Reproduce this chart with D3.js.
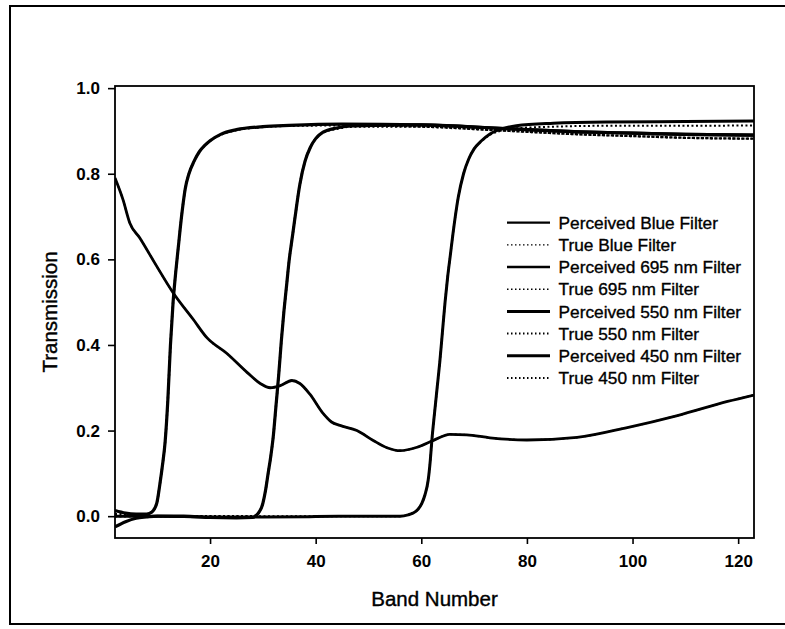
<!DOCTYPE html>
<html>
<head>
<meta charset="utf-8">
<script src="https://cdn.jsdelivr.net/npm/d3@7"></script>
<style>
  html, body { margin: 0; padding: 0; background: #fff; }
  svg { display: block; }
  text { font-family: "Liberation Sans", Arial, sans-serif; fill: #000; }
</style>
</head>
<body>
<svg id="chart" width="785" height="629"></svg>
<script>
// ---------- data ----------
const xTicks = [20, 40, 60, 80, 100, 120];
const yTicks = [0.0, 0.2, 0.4, 0.6, 0.8, 1.0];

const blueBands = [2,3.5,4.8,6.7,9.6,13,16.8,19.4,23.2,27,29.5,31.4,33.3,35.5,37,38.9,41.4,43,44.6,47.8,50.9,53.5,56,59.2,62.3,65.4,68.6,73,80,89.5,99,108.5,118,123];
const bluePerceived = [0.79,0.74,0.685,0.65,0.59,0.522,0.46,0.417,0.38,0.336,0.31,0.30,0.305,0.317,0.31,0.285,0.24,0.22,0.212,0.2,0.177,0.16,0.153,0.161,0.177,0.191,0.19,0.183,0.178,0.184,0.207,0.235,0.268,0.283];
const blueTrue = [0.79,0.74,0.685,0.65,0.59,0.522,0.46,0.417,0.38,0.336,0.31,0.30,0.305,0.317,0.31,0.285,0.24,0.22,0.212,0.2,0.177,0.16,0.153,0.161,0.177,0.191,0.19,0.183,0.178,0.184,0.207,0.235,0.268,0.283];

const f695Bands = [2,10,20,30,40,50,56,57.5,58.4,59.3,60.1,60.7,61.3,61.7,62,62.5,63,63.5,64,64.5,65,65.5,66,67,68,69,70,71.4,73,75,78,85,95,110,123];
const f695Perceived = [0,0,-0.002,-0.002,-0.001,0,0,0.003,0.007,0.015,0.03,0.05,0.084,0.13,0.177,0.24,0.3,0.36,0.43,0.5,0.56,0.61,0.66,0.745,0.8,0.835,0.858,0.877,0.893,0.904,0.912,0.918,0.921,0.922,0.923];
const f695True = [0,0,0,0,0,0,0,0.003,0.007,0.015,0.03,0.05,0.084,0.13,0.177,0.24,0.3,0.36,0.43,0.5,0.56,0.61,0.66,0.745,0.8,0.835,0.858,0.876,0.891,0.9,0.906,0.91,0.912,0.912,0.913];

const f550Bands = [2,4,6,8,10,15,20,25,28,29,30,30.5,31,31.5,32,32.5,33,33.5,34,34.5,35,35.5,36,37,38,39,40,41.4,44,47,60,72,80,90,100,110,123];
const f550Perceived = [-0.025,-0.013,-0.005,-0.002,0,0,-0.003,-0.004,-0.003,0.005,0.03,0.06,0.1,0.14,0.19,0.26,0.33,0.41,0.48,0.54,0.6,0.645,0.69,0.775,0.83,0.862,0.882,0.897,0.907,0.912,0.914,0.908,0.903,0.898,0.895,0.892,0.890];
const f550True = [0,0,0,0,0,0,0,0,0,0.005,0.03,0.06,0.1,0.14,0.19,0.26,0.33,0.41,0.48,0.54,0.6,0.645,0.69,0.775,0.83,0.862,0.882,0.896,0.905,0.91,0.91,0.903,0.898,0.892,0.888,0.884,0.882];

const f450Bands = [2,4,6,8,9,9.9,10.5,11,11.5,12,12.5,13,13.5,14,14.6,15.3,16,17,18,19,20,22,25,30,35,45,60,72,80,90,100,110,123];
const f450Perceived = [0.013,0.007,0.005,0.005,0.01,0.03,0.075,0.12,0.175,0.27,0.4,0.5,0.57,0.63,0.7,0.765,0.8,0.83,0.852,0.866,0.877,0.892,0.903,0.91,0.913,0.916,0.914,0.908,0.903,0.898,0.895,0.892,0.890];
const f450True = [0.005,0.005,0.005,0.005,0.01,0.03,0.075,0.12,0.175,0.27,0.4,0.5,0.57,0.63,0.7,0.765,0.8,0.83,0.852,0.866,0.877,0.891,0.902,0.909,0.912,0.913,0.91,0.903,0.898,0.892,0.888,0.884,0.882];

const legendLabels = [
  "Perceived Blue Filter", "True Blue Filter",
  "Perceived 695 nm Filter", "True 695 nm Filter",
  "Perceived 550 nm Filter", "True 550 nm Filter",
  "Perceived 450 nm Filter", "True 450 nm Filter"
];

// ---------- build series ----------
const zip = (xs, ys) => xs.map((b, i) => ({ b, v: ys[i] }));
const series = [
  { key: legendLabels[0], pts: zip(blueBands, bluePerceived), dotted: false, w: 2.8, lw: 2.2 },
  { key: legendLabels[1], pts: zip(blueBands, blueTrue), dotted: true, w: 1.8, lw: 1.3 },
  { key: legendLabels[2], pts: zip(f695Bands, f695Perceived), dotted: false, w: 3.0, lw: 2.4 },
  { key: legendLabels[3], pts: zip(f695Bands, f695True), dotted: true, w: 2.0, lw: 1.5 },
  { key: legendLabels[4], pts: zip(f550Bands, f550Perceived), dotted: false, w: 3.2, lw: 3.0 },
  { key: legendLabels[5], pts: zip(f550Bands, f550True), dotted: true, w: 2.3, lw: 2.0 },
  { key: legendLabels[6], pts: zip(f450Bands, f450Perceived), dotted: false, w: 3.2, lw: 3.0 },
  { key: legendLabels[7], pts: zip(f450Bands, f450True), dotted: true, w: 2.3, lw: 2.0 }
];

// ---------- layout ----------
const plot = { left: 115, right: 754, top: 86, bottom: 538 };

const svg = d3.select("#chart");

// outer frame (right side falls outside the picture)
svg.append("rect")
  .attr("x", 10).attr("y", 6)
  .attr("width", 800).attr("height", 618)
  .attr("fill", "none").attr("stroke", "#000").attr("stroke-width", 2);

const x = d3.scaleLinear().domain([2, 123]).range([plot.left, plot.right]);
const y = d3.scaleLinear().domain([-0.051, 1.005]).range([plot.bottom, plot.top]);

svg.append("clipPath").attr("id", "clip")
  .append("rect")
  .attr("x", plot.left).attr("y", plot.top)
  .attr("width", plot.right - plot.left).attr("height", plot.bottom - plot.top);

const line = d3.line()
  .x(d => x(d.b))
  .y(d => y(d.v))
  .curve(d3.curveMonotoneX);

const gLines = svg.append("g").attr("clip-path", "url(#clip)");
// solid (perceived) first, dotted (true) on top
series.filter(s => !s.dotted).forEach(s => {
  gLines.append("path")
    .datum(s.pts)
    .attr("d", line)
    .attr("fill", "none")
    .attr("stroke", "#000")
    .attr("stroke-width", s.w)
    .attr("stroke-linejoin", "round");
});
series.filter(s => s.dotted).forEach(s => {
  gLines.append("path")
    .datum(s.pts)
    .attr("d", line)
    .attr("fill", "none")
    .attr("stroke", "#000")
    .attr("stroke-width", s.w)
    .attr("stroke-dasharray", "2,2.5");
});

// plot box
svg.append("rect")
  .attr("x", plot.left).attr("y", plot.top)
  .attr("width", plot.right - plot.left).attr("height", plot.bottom - plot.top)
  .attr("fill", "none").attr("stroke", "#000").attr("stroke-width", 1.8);

// axes
const xAxis = svg.append("g")
  .attr("transform", `translate(0,${plot.bottom})`)
  .call(d3.axisBottom(x).tickValues(xTicks).tickSize(6).tickPadding(11).tickFormat(d3.format("d")));
const yAxis = svg.append("g")
  .attr("transform", `translate(${plot.left},0)`)
  .call(d3.axisLeft(y).tickValues(yTicks).tickSize(7).tickPadding(8).tickFormat(d3.format(".1f")));

[xAxis, yAxis].forEach(a => {
  a.select(".domain").remove();
  a.selectAll(".tick line").attr("stroke", "#000").attr("stroke-width", 1.6);
  a.selectAll(".tick text")
    .attr("fill", "#000")
    .style("font-family", "'Liberation Sans', Arial, sans-serif")
    .style("font-size", "17px")
    .style("font-weight", "bold");
});

// axis titles
svg.append("text")
  .attr("x", (plot.left + plot.right) / 2)
  .attr("y", 606)
  .attr("text-anchor", "middle")
  .style("font-size", "20.5px")
  .style("stroke", "#000").style("stroke-width", 0.4)
  .text("Band Number");

svg.append("text")
  .attr("transform", `translate(57,${(plot.top + plot.bottom) / 2}) rotate(-90)`)
  .attr("text-anchor", "middle")
  .style("font-size", "20.5px")
  .style("stroke", "#000").style("stroke-width", 0.4)
  .text("Transmission");

// legend
const leg = svg.append("g");
series.forEach((s, i) => {
  const yy = 222.6 + i * 22.2;
  leg.append("line")
    .attr("x1", 507).attr("x2", 550)
    .attr("y1", yy).attr("y2", yy)
    .attr("stroke", "#000")
    .attr("stroke-width", s.lw)
    .attr("stroke-dasharray", s.dotted ? "1.5,2.5" : null);
  leg.append("text")
    .attr("x", 558.5)
    .attr("y", yy)
    .attr("dy", "0.36em")
    .style("font-size", "17.3px")
    .style("stroke", "#000").style("stroke-width", 0.35)
    .text(s.key);
});
</script>
</body>
</html>
